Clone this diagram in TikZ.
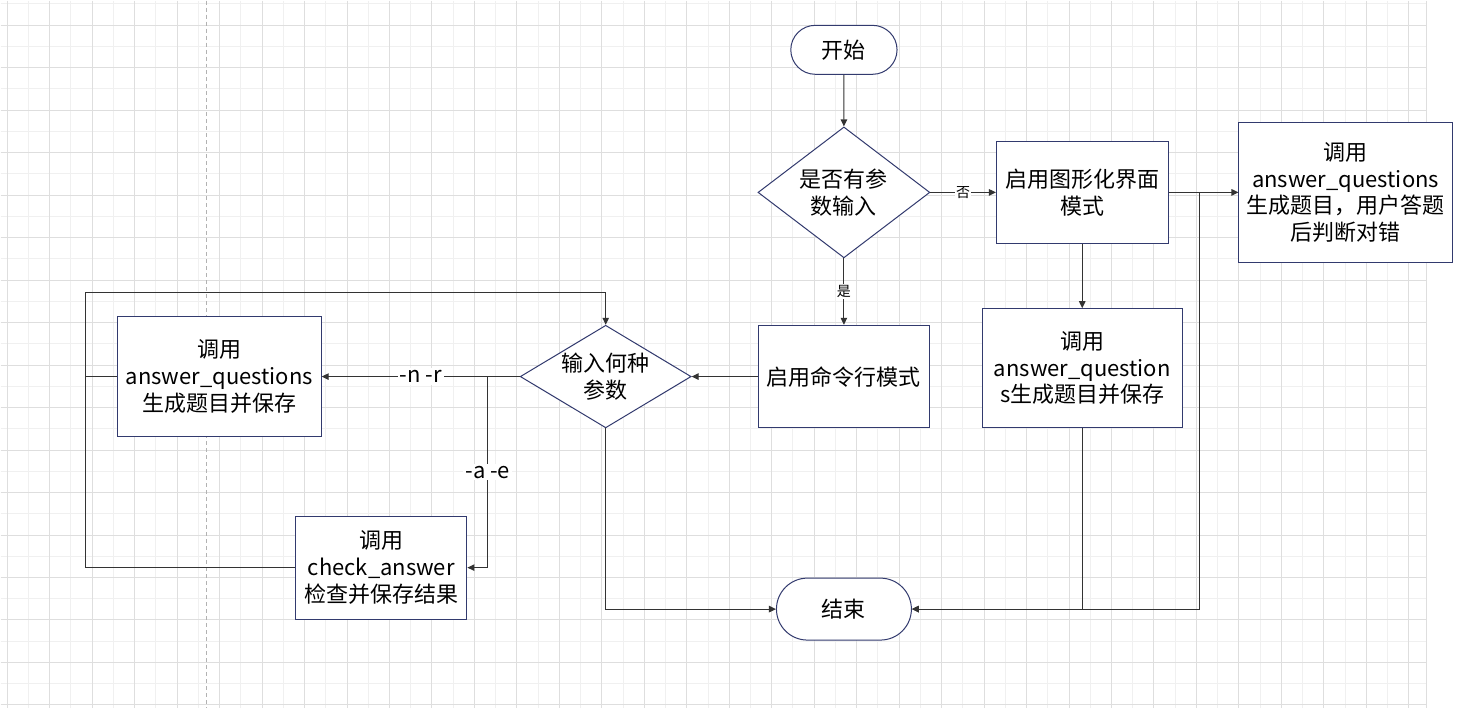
\documentclass[tikz,border=0pt]{standalone}
\usepackage{fontspec}
\setmainfont{Noto Sans CJK SC}
\usetikzlibrary{positioning,arrows.meta,shapes.geometric,shapes.misc}
\definecolor{edge}{HTML}{333333}
\definecolor{frame}{HTML}{323A6E}
\definecolor{gridmin}{HTML}{F0F0F0}
\definecolor{gridmaj}{HTML}{DEDEDE}

\begin{document}
\begin{tikzpicture}[x=1pt,y=-1pt,>={Triangle[length=7pt,width=6.5pt]},
  every node/.style={font=\fontsize{22}{26.7}\selectfont,align=center},
  box/.style={draw=frame,line width=1pt,fill=white,rectangle,inner sep=2pt},
  term/.style={draw=frame,line width=1pt,fill=white,rounded rectangle},
  decide/.style={draw=frame,line width=1pt,fill=white,diamond,inner sep=0pt},
  lbl/.style={fill=white,inner sep=2pt},
  small/.style={fill=white,inner sep=1pt,font=\fontsize{14}{16}\selectfont},
  every path/.style={line width=1.1pt,draw=edge}]
\useasboundingbox (0,0) rectangle (1468,708);
\fill[white] (0,0) rectangle (1468,708);
\foreach \k in {1,3,...,65} \draw[gridmin,line width=0.9pt] (6.7+21.25*\k,0) -- (6.7+21.25*\k,708);
\foreach \k in {0,2,...,32} \draw[gridmin,line width=0.9pt] (0,3.3+21.26*\k) -- (1427,3.3+21.26*\k);
\foreach \k in {0,2,...,66} \draw[gridmaj,line width=0.9pt] (6.7+21.25*\k,0) -- (6.7+21.25*\k,708);
\foreach \k in {1,3,...,33} \draw[gridmaj,line width=0.9pt] (0,3.3+21.26*\k) -- (1427,3.3+21.26*\k);
\draw[gridmaj,line width=0.9pt] (1427,0) -- (1427,708);
\draw[gray!60,line width=0.9pt,dash pattern=on 4pt off 3pt] (206,0) -- (206,708);

\node[term,minimum width=113pt,minimum height=49pt] (start) at (844,49.3) {开始};
\node[decide,aspect=1.31,minimum width=172pt,minimum height=131pt] (hasarg) at (844,192) {是否有参\\数输入};
\node[box,minimum width=171.7pt,minimum height=102.7pt] (gui) at (1082.5,192) {启用图形化界面\\模式};
\node[box,minimum width=213.3pt,minimum height=139.3pt] (guiquiz) at (1346,192) {调用\\answer\_questions\\生成题目，用户答题\\后判断对错};
\node[box,minimum width=199.7pt,minimum height=119.3pt] (guigen) at (1082.5,368) {调用\\answer\_question\\s生成题目并保存};
\node[box,minimum width=171.7pt,minimum height=102.7pt] (cli) at (844,376.3) {启用命令行模式};
\node[decide,aspect=1.67,minimum width=171pt,minimum height=102.7pt] (which) at (605.6,376.3) {输入何种\\参数};
\node[box,minimum width=203.8pt,minimum height=119.3pt] (gen) at (219,376.3) {调用\\answer\_questions\\生成题目并保存};
\node[box,minimum width=171.4pt,minimum height=103pt] (check) at (381,567.5) {调用\\check\_answer\\检查并保存结果};
\node[term,minimum width=141.7pt,minimum height=62pt] (stop) at (844,609) {结束};
\coordinate (loop) at (85.3,292.3);

\draw[->] (start) -- (hasarg);
\draw[->] (hasarg.east) -- node[small]{否} (gui.west);
\draw[->] (hasarg.south) -- node[small]{是} (cli.north);
\draw[->] (gui) -- (guiquiz);
\draw[->] (gui.east) -- ++(31,0) |- (stop.east);
\draw[->] (gui) -- (guigen);
\draw[->] (guigen.south) |- (stop.east);
\draw[->] (cli) -- (which);
\draw[->] (which.west) -- node[lbl]{-n -r} (gen.east);
\draw[->] (which.west) -- ++(-32,0) |- node[lbl,pos=0.25]{-a -e} (check.east);
\draw[->] (which.south) |- (stop.west);
\draw[->] (check.west) -| (loop) -| (which.north);
\draw (gen.west) -- (gen.west -| loop);
\end{tikzpicture}
\end{document}
